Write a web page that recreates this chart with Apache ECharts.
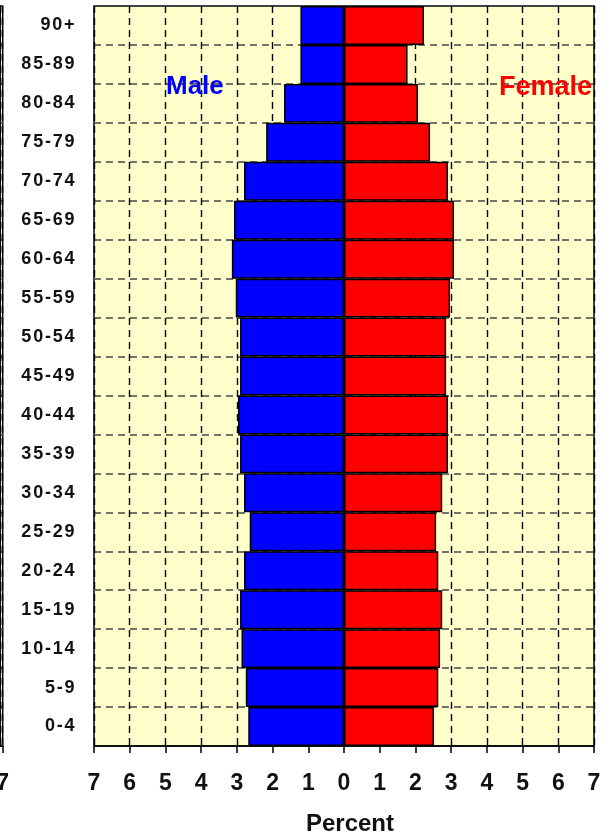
<!DOCTYPE html>
<html>
<head>
<meta charset="utf-8">
<script src="https://cdn.jsdelivr.net/npm/echarts@6/dist/echarts.min.js"></script>
<style>
html,body{margin:0;padding:0;background:#fff;}
#chart{width:613px;height:835px;}
</style>
</head>
<body>
<div id="chart"></div>
<script>
// Age groups, bottom to top
var ageGroups = ['0-4','5-9','10-14','15-19','20-24','25-29','30-34','35-39','40-44','45-49','50-54','55-59','60-64','65-69','70-74','75-79','80-84','85-89','90+'];
// Percent of population (male shown to the left)
var maleValues   = [2.68,2.75,2.87,2.91,2.80,2.64,2.80,2.91,2.97,2.91,2.91,3.03,3.14,3.08,2.80,2.18,1.68,1.22,1.22];
var femaleValues = [2.52,2.64,2.69,2.75,2.64,2.58,2.75,2.91,2.91,2.86,2.86,2.97,3.08,3.08,2.91,2.41,2.07,1.78,2.24];
var xTicks = [-7,-6,-5,-4,-3,-2,-1,0,1,2,3,4,5,6,7];
// sliver of the neighbouring chart at the left edge
var edgeTicks = [6,7];

var font = 'Liberation Sans, Arial, sans-serif';
var chart = echarts.init(document.getElementById('chart'));

function spaced(s) {
  return s.split('').map(function (ch) { return '{c|' + ch + '}'; }).join('');
}

function xAxisCfg(gridIndex, ticks, showName) {
  return {
    type: 'value', gridIndex: gridIndex,
    min: ticks[0], max: ticks[ticks.length - 1], interval: 1,
    name: showName ? 'Percent' : '',
    nameLocation: 'middle', nameGap: 66,
    nameTextStyle: {fontFamily: font, fontWeight: 'bold', fontSize: 24, color: '#111', padding: [0, 0, 0, 12]},
    axisLine: {show: true, lineStyle: {color: '#000', width: 1.5}},
    axisTick: {show: true, length: 7, lineStyle: {color: '#000', width: 1.5}},
    axisLabel: {
      margin: 26, fontFamily: font, fontWeight: 'bold', fontSize: 23, color: '#111',
      showMinLabel: showName ? true : false,
      formatter: function (v) { return String(Math.abs(v)); }
    },
    splitLine: {show: true, lineStyle: {color: '#000', type: [7, 5], width: 1.4}}
  };
}
function yAxisCfg(gridIndex, showLabels) {
  return {
    type: 'category', gridIndex: gridIndex, data: ageGroups,
    axisLine: {show: true, lineStyle: {color: '#000', width: 1.5}},
    axisTick: {show: false},
    axisLabel: {
      show: showLabels, margin: 18.5, fontFamily: font, fontWeight: 'bold', fontSize: 18, color: '#111',
      formatter: function (v) { return spaced(v); },
      rich: {c: {fontFamily: font, fontWeight: 'bold', fontSize: 18, color: '#111', padding: [0, 0.9, 0, 0.9]}}
    },
    splitLine: {show: true, lineStyle: {color: '#444', type: [7, 5], width: 1.5}}
  };
}

chart.setOption({
  animation: false,
  backgroundColor: '#fff',
  grid: [
    {left: 94, right: 19, top: 6, bottom: 89, outerBoundsMode: 'none', containLabel: false,
     show: true, backgroundColor: '#FFFFCC', borderColor: '#000', borderWidth: 1.5},
    {left: 0, width: 2.7, top: 6, bottom: 89, outerBoundsMode: 'none', containLabel: false,
     show: true, backgroundColor: '#FFFFCC', borderColor: '#000', borderWidth: 1.5}
  ],
  xAxis: [xAxisCfg(0, xTicks, true), xAxisCfg(1, edgeTicks, false)],
  yAxis: [yAxisCfg(0, true), yAxisCfg(1, false)],
  series: [
    {
      name: 'Male', type: 'bar', xAxisIndex: 0, yAxisIndex: 0, stack: 'pop',
      barCategoryGap: 0,
      data: maleValues.map(function (v) { return -v; }),
      itemStyle: {color: '#0000FF', borderColor: '#000', borderWidth: 1.5}
    },
    {
      name: 'Female', type: 'bar', xAxisIndex: 0, yAxisIndex: 0, stack: 'pop',
      barCategoryGap: 0,
      data: femaleValues,
      itemStyle: {color: '#FF0000', borderColor: '#000', borderWidth: 1.5}
    }
  ],
  graphic: [
    {type: 'text', left: 166, top: 74, z: 100,
     style: {text: 'Male', fill: '#0000FF', font: 'bold 26px ' + font}},
    {type: 'text', left: 499, top: 74, z: 100,
     style: {text: 'Female', fill: '#FF0000', font: 'bold 27px ' + font}}
  ]
});
</script>
</body>
</html>
